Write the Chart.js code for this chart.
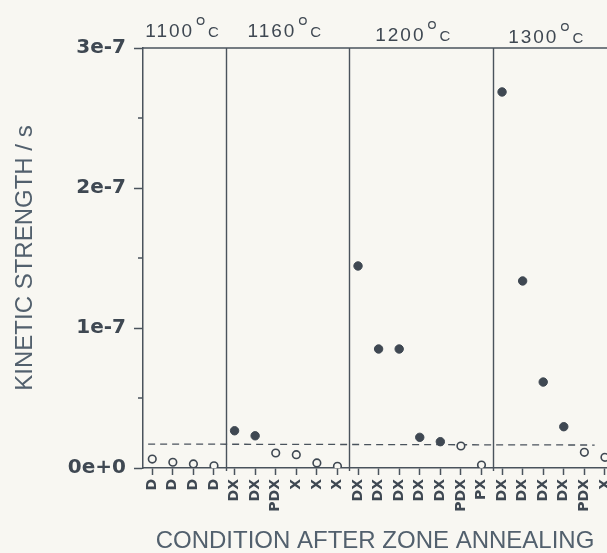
<!DOCTYPE html>
<html><head><meta charset="utf-8">
<script src="https://cdn.jsdelivr.net/npm/chart.js@4/dist/chart.umd.min.js"></script>
<style>html,body{margin:0;padding:0;background:#f8f7f2;overflow:hidden}canvas{display:block}</style>
</head><body>
<canvas id="c" width="607" height="553"></canvas>
<script>
// ---- data ----
const categories = ['D','D','D','D','DX','DX','PDX','X','X','X','DX','DX','DX','DX','DX','PDX','PX','DX','DX','DX','DX','PDX','X'];
const strength = [6.4e-9, 4.1e-9, 2.9e-9, 1.6e-9, 2.66e-8, 2.3e-8, 1.07e-8, 9.5e-9, 3.6e-9, 1.2e-9,
                  1.443e-7, 8.5e-8, 8.5e-8, 2.19e-8, 1.88e-8, 1.57e-8, 2.1e-9,
                  2.686e-7, 1.336e-7, 6.14e-8, 2.95e-8, 1.12e-8, 7.6e-9];
const solid = [0,0,0,0,1,1,0,0,0,0,1,1,1,1,1,0,0,1,1,1,1,0,0];
const groupLabels = ['1100','1160','1200','1300'];
const groupBounds = [3.6, 9.58, 16.58];
const yTickValues = [0, 1e-7, 2e-7, 3e-7];
const yTickLabels = ['0e+0','1e-7','2e-7','3e-7'];
const yMinorTicks = [0.5e-7, 1.5e-7, 2.5e-7];
const thresholdX = [-0.2, 21.5];
const thresholdY = [1.71e-8, 1.64e-8];

// ---- style ----
const BG = '#f8f7f2', INK = '#3f4852', LINE = '#4a535c', TITLE = '#52606d';
const labelPos = [1.45, 6.42, 12.66, 19.12];
const labelBase = [37, 37, 41, 43];

const filledPts = [], openPts = [];
strength.forEach((v, i) => { (solid[i] ? filledPts : openPts).push({x: i, y: v}); });

const decor = {
  id: 'decor',
  beforeDraw(chart) {
    const c = chart.ctx; c.save(); c.fillStyle = BG; c.fillRect(0, 0, chart.width, chart.height); c.restore();
  },
  afterDraw(chart) {
    const {ctx, chartArea: a, scales: {x, y}} = chart;
    ctx.save();
    ctx.strokeStyle = LINE; ctx.lineWidth = 1.5;
    ctx.beginPath(); ctx.moveTo(a.left, a.top); ctx.lineTo(a.right, a.top); ctx.stroke();
    ctx.lineWidth = 1.4;
    groupBounds.forEach(b => {
      const px = Math.round(x.getPixelForValue(b)) + 0.5;
      ctx.beginPath(); ctx.moveTo(px, a.top); ctx.lineTo(px, a.bottom + 3); ctx.stroke();
    });
    ctx.lineWidth = 1.5;
    yMinorTicks.forEach(v => {
      const py = y.getPixelForValue(v);
      ctx.beginPath(); ctx.moveTo(a.left - 5, py); ctx.lineTo(a.left, py); ctx.stroke();
    });
    // temperature labels
    ctx.fillStyle = INK; ctx.strokeStyle = INK; ctx.textBaseline = 'alphabetic'; ctx.textAlign = 'left';
    groupLabels.forEach((t, i) => {
      ctx.font = '19px "Liberation Sans"';
      try { ctx.letterSpacing = '2px'; } catch (e) {}
      const wd = ctx.measureText(t).width;
      try { ctx.letterSpacing = '0px'; } catch (e) {}
      ctx.font = '15px "Liberation Sans"';
      const wc = ctx.measureText('C').width;
      const total = wd + 3 + 7 + 4 + wc;
      const cx = x.getPixelForValue(labelPos[i]);
      let sx = cx - total / 2;
      const b = labelBase[i];
      ctx.font = '19px "Liberation Sans"';
      try { ctx.letterSpacing = '2px'; } catch (e) {}
      ctx.fillText(t, sx, b);
      try { ctx.letterSpacing = '0px'; } catch (e) {}
      sx += wd + 3;
      ctx.lineWidth = 1.3;
      ctx.beginPath(); ctx.arc(sx + 3.5, b - 16, 3.3, 0, Math.PI * 2); ctx.stroke();
      sx += 7 + 4;
      ctx.font = '15px "Liberation Sans"';
      ctx.fillText('C', sx, b);
    });
    ctx.restore();
  }
};

new Chart(document.getElementById('c'), {
  type: 'scatter',
  data: { datasets: [
    { label: 'filled', data: filledPts, pointRadius: 4.2, pointBackgroundColor: INK, pointBorderColor: INK, pointBorderWidth: 1, order: 1 },
    { label: 'open', data: openPts, pointRadius: 3.8, pointBackgroundColor: BG, pointBorderColor: INK, pointBorderWidth: 1.6, order: 1 },
    { type: 'line', label: 'threshold', data: thresholdX.map((xv, i) => ({x: xv, y: thresholdY[i]})),
      borderColor: LINE, borderWidth: 1.3, borderDash: [7, 5], pointRadius: 0, fill: false, order: 2 }
  ]},
  options: {
    responsive: false, animation: false, devicePixelRatio: 1,
    layout: { padding: {top: 48, left: 0, right: 0, bottom: 0}, autoPadding: false },
    plugins: { legend: {display: false}, tooltip: {enabled: false} },
    scales: {
      x: {
        type: 'linear', min: -0.45, max: 22.1,
        afterFit(s) { s.height = 85; s.paddingLeft = 0; s.paddingRight = 0; },
        afterBuildTicks(s) { s.ticks = categories.map((_, i) => ({value: i})); },
        ticks: { autoSkip: false, maxRotation: 90, minRotation: 90, padding: 4, color: INK,
                 font: {family: 'DejaVu Sans', weight: 'bold', size: 14}, callback: (v, i) => categories[i] },
        grid: { display: true, drawOnChartArea: false, drawTicks: true, tickLength: 7, color: LINE, tickWidth: 1.5 },
        border: { display: true, color: LINE, width: 1.5 },
        title: { display: true, text: 'CONDITION AFTER ZONE ANNEALING', color: TITLE,
                 font: {family: 'Liberation Sans', size: 24, lineHeight: 1}, padding: {top: 0, bottom: 0} }
      },
      y: {
        min: 0, max: 3e-7,
        afterFit(s) { s.width = 143; s.paddingTop = 0; s.paddingBottom = 0; },
        afterBuildTicks(s) { s.ticks = yTickValues.map(v => ({value: v})); },
        ticks: { padding: 8, color: INK, font: {family: 'DejaVu Sans', weight: 'bold', size: 20},
                 callback: (v, i) => yTickLabels[i] },
        grid: { display: true, drawOnChartArea: false, drawTicks: true, tickLength: 9, color: LINE, tickWidth: 1.5 },
        border: { display: true, color: LINE, width: 1.5 },
        title: { display: true, text: 'KINETIC STRENGTH / s', color: TITLE,
                 font: {family: 'Liberation Sans', size: 24, lineHeight: 1}, padding: {top: 13, bottom: 0} }
      }
    }
  },
  plugins: [decor]
});
</script>
</body></html>
